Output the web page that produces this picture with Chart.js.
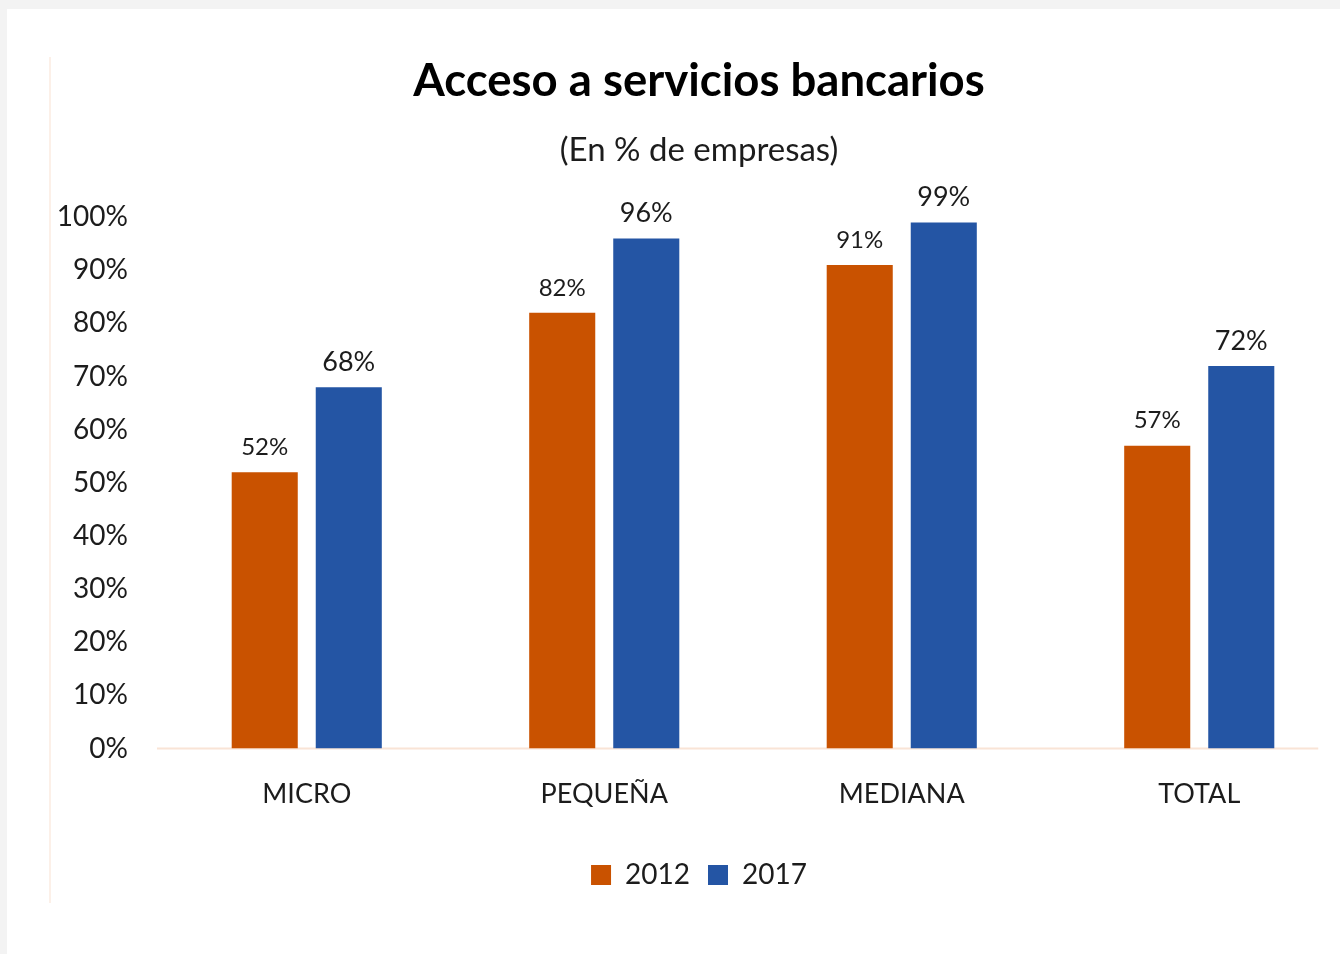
<!DOCTYPE html>
<html lang="es">
<head>
<meta charset="utf-8">
<title>Acceso a servicios bancarios</title>
<script src="https://cdn.jsdelivr.net/npm/chart.js@4.4.1/dist/chart.umd.min.js"></script>
<style>
  html, body { margin: 0; padding: 0; background: #f3f3f3; overflow: hidden; }
  #sheet { position: absolute; left: 7px; top: 9px; right: 0; bottom: 0; background: #fff; }
  #edge { position: absolute; left: 49px; top: 57px; width: 2px; height: 846px; background: #fcf0e8; }
  #box { position: absolute; left: 50px; top: 2px; width: 1300px; height: 897px; }
</style>
</head>
<body>
<div id="sheet"></div>
<div id="edge"></div>
<div id="box"><canvas id="grafico"></canvas></div>
<script>
const categorias = ['MICRO', 'PEQUEÑA', 'MEDIANA', 'TOTAL'];
const anios = ['2012', '2017'];
const valores2012 = [52, 82, 91, 57];
const valores2017 = [68, 96, 99, 72];
const ticksY = [0, 10, 20, 30, 40, 50, 60, 70, 80, 90, 100];

const naranja = '#c95200';
const azul = '#2455a4';
const texto = '#1c1c1c';
const fuente = 'Lato, "Open Sans", sans-serif';

// linea base del eje x, mas corta que el area del grafico
const lineaBase = {
  id: 'lineaBase',
  beforeDatasetsDraw(chart) {
    const { ctx, chartArea, scales } = chart;
    const y = scales.y.getPixelForValue(0);
    const paso = scales.x.getPixelForValue(1) - scales.x.getPixelForValue(0);
    const fin = scales.x.getPixelForValue(categorias.length - 1) + paso * 0.4;
    ctx.save();
    ctx.strokeStyle = '#f9e4d6';
    ctx.lineWidth = 2;
    ctx.beginPath();
    ctx.moveTo(chartArea.left - 1, y);
    ctx.lineTo(fin, y);
    ctx.stroke();
    ctx.restore();
  }
};

// etiquetas de valor encima de cada barra
const etiquetas = {
  id: 'etiquetas',
  afterDatasetsDraw(chart) {
    const { ctx } = chart;
    const tamanos = [24, 27];
    chart.data.datasets.forEach((ds, i) => {
      const meta = chart.getDatasetMeta(i);
      ctx.save();
      ctx.font = tamanos[i] + 'px ' + fuente;
      ctx.fillStyle = texto;
      ctx.textAlign = 'center';
      ctx.textBaseline = 'middle';
      meta.data.forEach((barra, j) => {
        ctx.fillText(ds.data[j] + '%', barra.x, barra.y - 25);
      });
      ctx.restore();
    });
  }
};

new Chart(document.getElementById('grafico'), {
  type: 'bar',
  data: {
    labels: categorias,
    datasets: [
      { label: anios[0], data: valores2012, backgroundColor: naranja },
      { label: anios[1], data: valores2017, backgroundColor: azul }
    ]
  },
  options: {
    responsive: true,
    maintainAspectRatio: false,
    animation: false,
    layout: { padding: { left: 0, right: 2, top: 0, bottom: 0 } },
    datasets: {
      bar: { categoryPercentage: 0.565, barPercentage: 0.786 }
    },
    scales: {
      x: {
        grid: { display: false, drawTicks: false },
        border: { display: false },
        ticks: { color: texto, font: { family: fuente, size: 27 }, padding: 30 },
        afterFit(scale) { scale.height = 94.5; }
      },
      y: {
        min: 0,
        max: 100,
        grid: { display: false, drawTicks: false },
        border: { display: false },
        afterBuildTicks(scale) { scale.ticks = ticksY.map(v => ({ value: v })); },
        ticks: {
          color: texto,
          font: { family: fuente, size: 28 },
          padding: 30,
          callback: v => v + '%'
        },
        afterFit(scale) { scale.width = 108; }
      }
    },
    plugins: {
      title: {
        display: true,
        text: 'Acceso a servicios bancarios',
        color: '#000',
        font: { family: fuente, size: 45.5, weight: 'bold', lineHeight: 1.2 },
        padding: { top: 52.5, bottom: 0 }
      },
      subtitle: {
        display: true,
        text: '(En % de empresas)',
        color: texto,
        font: { family: fuente, size: 33, lineHeight: 1.2 },
        padding: { top: 21.5, bottom: 47 }
      },
      legend: {
        position: 'bottom',
        labels: {
          color: texto,
          font: { family: fuente, size: 28 },
          boxWidth: 20,
          boxHeight: 20,
          padding: 18
        }
      },
      tooltip: { enabled: false }
    }
  },
  plugins: [lineaBase, etiquetas]
});
</script>
</body>
</html>
